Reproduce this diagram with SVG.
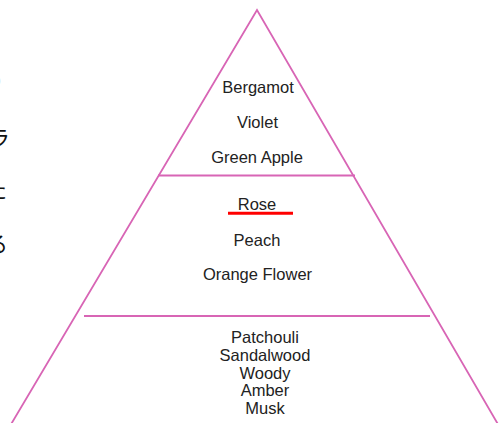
<svg xmlns="http://www.w3.org/2000/svg" width="500" height="423" viewBox="0 0 500 423">
<style>
.edge{fill:none;stroke:#d865b5;stroke-width:1.8}
.div{stroke:#d865b5;stroke-width:2}
.t{font-family:"Liberation Sans",Arial,sans-serif;font-size:16.5px;fill:#222;text-anchor:middle}
.jp{font-family:"Noto Sans CJK JP",sans-serif;font-size:22px;fill:#111}
</style>
<rect width="500" height="423" fill="#fff"/>
<g id="side-text">
<text class="jp" x="-20" y="88" fill="#999" style="fill:#aaa">の</text>
<text class="jp" x="-12" y="146">ラ</text>
<text class="jp" x="-15" y="198">た</text>
<text class="jp" x="-14" y="252">る</text>
</g>
<g id="pyramid">
<path class="edge" d="M10,426 L257,10 L499,426"/>
</g>
<g id="connectors">
<line class="div" x1="158" y1="175.5" x2="355" y2="175.5"/>
<line class="div" x1="84" y1="316" x2="430" y2="316"/>
</g>
<g id="top-notes">
<text class="t" x="258" y="93">Bergamot</text>
<text class="t" x="257.5" y="128">Violet</text>
<text class="t" x="257" y="162.5">Green Apple</text>
</g>
<g id="heart-notes">
<text class="t" x="257" y="210">Rose</text>
<line x1="228" y1="213.3" x2="293" y2="213.3" stroke="#ff0000" stroke-width="3"/>
<text class="t" x="257" y="245.5">Peach</text>
<text class="t" x="257.5" y="280">Orange Flower</text>
</g>
<g id="base-notes">
<text class="t" x="265" y="343.3">Patchouli</text>
<text class="t" x="265" y="361">Sandalwood</text>
<text class="t" x="265" y="378.7">Woody</text>
<text class="t" x="265" y="396.3">Amber</text>
<text class="t" x="265" y="413.5">Musk</text>
</g>
</svg>
